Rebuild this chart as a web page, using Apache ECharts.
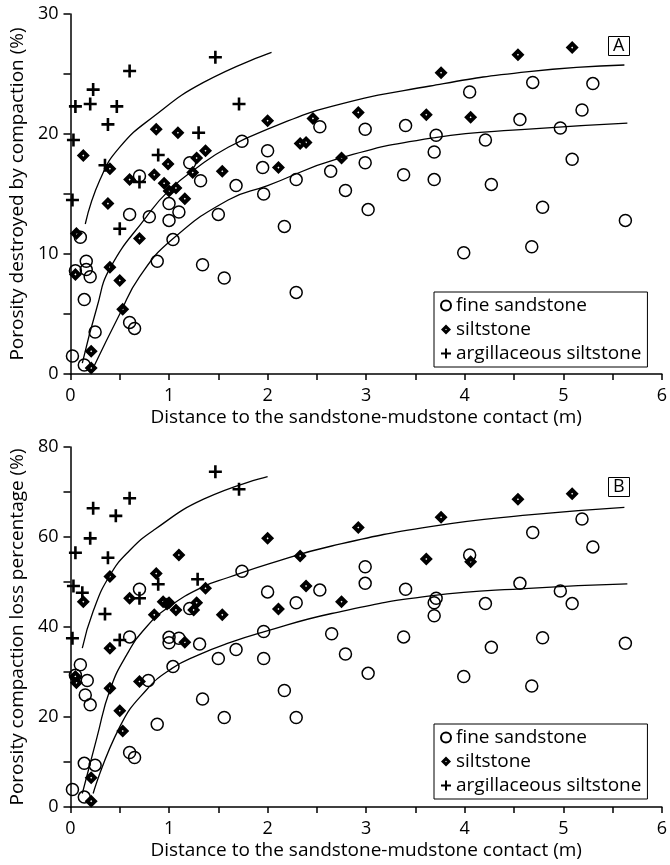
<!DOCTYPE html>
<html>
<head>
<meta charset="utf-8">
<script src="https://cdn.jsdelivr.net/npm/echarts@6/dist/echarts.min.js"></script>
<style>
  html, body { margin: 0; padding: 0; background: #fff; }
</style>
</head>
<body>
<div id="main" style="width: 670px;height:865px;"></div>
<script>
// panel A: porosity destroyed by compaction (%)
var fineA = [[0.7, 16.5], [1.21, 17.6], [1.32, 16.1], [1.74, 19.4], [2.0, 18.6], [1.95, 17.2], [1.68, 15.7], [1.96, 15.0],
  [2.53, 20.6], [2.29, 16.2], [2.64, 16.9], [1.5, 13.3], [0.6, 13.3], [0.8, 13.1], [1.0, 14.2], [1.1, 13.5], [1.0, 12.8],
  [1.04, 11.2], [0.88, 9.4], [1.34, 9.1], [1.56, 8.0], [2.17, 12.3], [2.29, 6.8], [0.1, 11.4], [0.16, 9.4], [0.05, 8.6],
  [0.16, 8.7], [0.2, 8.1], [0.14, 6.2], [0.6, 4.3], [0.65, 3.8], [0.25, 3.5], [0.02, 1.5], [0.14, 0.75],
  [4.05, 23.5], [4.69, 24.3], [5.3, 24.2], [5.19, 22.0], [2.99, 20.4], [3.4, 20.7], [3.71, 19.9], [4.56, 21.2], [4.97, 20.5],
  [4.21, 19.5], [3.69, 18.5], [2.99, 17.6], [3.38, 16.6], [3.69, 16.2], [5.09, 17.9], [2.79, 15.3], [4.27, 15.8],
  [3.02, 13.7], [4.79, 13.9], [5.63, 12.8], [3.99, 10.1], [4.68, 10.6]]
var siltA = [[0.13, 18.2], [0.4, 17.1], [0.38, 14.2], [0.6, 16.2], [0.87, 20.4], [1.09, 20.1], [0.85, 16.6], [0.99, 17.5],
  [0.95, 15.9], [1.0, 15.25], [1.07, 15.5], [1.16, 14.6], [1.28, 18.0], [1.37, 18.6], [1.24, 16.8], [1.54, 16.9],
  [2.0, 21.1], [2.11, 17.2], [2.46, 21.3], [2.33, 19.2], [2.39, 19.3], [2.75, 18.0], [2.92, 21.8], [3.76, 25.1],
  [3.61, 21.6], [4.06, 21.4], [4.54, 26.6], [5.09, 27.2], [0.06, 11.7], [0.05, 8.3], [0.4, 8.9], [0.7, 11.3],
  [0.5, 7.8], [0.53, 5.4], [0.21, 1.9], [0.21, 0.5]]
var argA = [[0.05, 22.3], [0.2, 22.5], [0.23, 23.7], [0.6, 25.25], [0.47, 22.3], [0.38, 20.8], [0.03, 19.5], [1.47, 26.4],
  [1.71, 22.5], [1.3, 20.1], [0.89, 18.25], [0.35, 17.4], [0.7, 16.0], [0.02, 14.5], [0.5, 12.1]]
var curveArgA = [[0.15, 12.5], [0.3, 16.2], [0.5, 18.9], [0.85, 21.5], [1.35, 24.3], [2.04, 26.8]]
var curveSiltA = [[0.12, 0.9], [0.27, 5.6], [0.4, 8.8], [0.77, 13.1], [1.0, 15.3], [1.3, 17.3], [1.6, 18.9], [2.0, 20.4],
  [2.65, 22.3], [3.65, 24.0], [4.65, 25.2], [5.62, 25.75]]
var curveFineA = [[0.23, 0.5], [0.5, 5.0], [0.7, 8.1], [1.03, 11.2], [1.6, 14.5], [2.0, 15.7], [2.7, 17.9], [3.7, 19.7],
  [4.65, 20.4], [5.65, 20.9]]

// panel B: porosity compaction loss percentage (%)
var fineB = [[0.7, 48.4], [1.21, 44.1], [1.31, 36.2], [1.74, 52.4], [2.0, 47.8], [1.96, 39.0], [1.68, 35.0], [1.96, 33.0],
  [2.53, 48.2], [2.29, 45.4], [2.65, 38.5], [1.5, 33.0], [0.6, 37.8], [0.79, 28.1], [1.0, 37.7], [1.1, 37.5], [1.0, 36.5],
  [1.04, 31.2], [0.88, 18.4], [1.34, 24.0], [1.56, 19.9], [2.17, 25.9], [2.29, 19.9], [0.1, 31.6], [0.17, 28.1], [0.05, 29.3],
  [0.15, 24.9], [0.2, 22.7], [0.14, 9.7], [0.6, 12.1], [0.65, 11.0], [0.25, 9.3], [0.02, 3.9], [0.14, 2.2],
  [4.05, 56.0], [4.69, 61.0], [5.3, 57.8], [5.19, 64.0], [2.99, 53.4], [3.4, 48.4], [3.71, 46.4], [4.56, 49.7], [4.97, 48.0],
  [4.21, 45.2], [3.69, 45.4], [2.99, 49.7], [3.38, 37.8], [3.69, 42.5], [5.09, 45.2], [2.79, 34.0], [4.27, 35.5],
  [3.02, 29.7], [4.79, 37.6], [5.63, 36.4], [3.99, 29.0], [4.68, 26.9]]
var siltB = [[0.13, 45.6], [0.4, 51.2], [0.4, 35.3], [0.6, 46.4], [0.87, 51.9], [1.1, 56.0], [0.85, 42.7], [0.98, 45.1],
  [0.94, 45.6], [1.0, 45.4], [1.07, 43.8], [1.16, 36.6], [1.28, 45.4], [1.37, 48.6], [1.25, 43.8], [1.54, 42.7],
  [2.0, 59.7], [2.11, 44.0], [2.33, 55.8], [2.39, 49.1], [2.75, 45.6], [2.92, 62.1], [3.76, 64.4],
  [3.61, 55.1], [4.06, 54.5], [4.54, 68.4], [5.09, 69.6], [0.05, 29.0], [0.06, 27.6], [0.4, 26.4], [0.7, 27.9],
  [0.5, 21.4], [0.53, 16.9], [0.21, 6.5], [0.21, 1.3]]
var argB = [[0.05, 56.5], [0.03, 49.1], [0.12, 47.6], [0.23, 66.4], [0.2, 59.7], [0.46, 64.7], [0.6, 68.6], [0.38, 55.4],
  [0.35, 42.9], [0.7, 46.4], [0.89, 49.5], [1.29, 50.6], [1.47, 74.5], [1.71, 70.6], [0.02, 37.5], [0.5, 37.1]]
var curveArgB = [[0.12, 35.3], [0.23, 43.5], [0.4, 51.5], [0.6, 57.0], [0.85, 61.6], [1.35, 68.4], [2.0, 73.4]]
var curveSiltB = [[0.12, 3.0], [0.27, 15.6], [0.4, 26.0], [0.57, 33.8], [0.77, 40.0], [1.0, 44.5], [1.35, 49.0], [1.6, 51.0],
  [2.02, 54.1], [2.65, 58.0], [3.65, 62.3], [4.65, 64.9], [5.62, 66.6]]
var curveFineB = [[0.23, 3.0], [0.5, 17.8], [0.77, 26.0], [1.03, 30.8], [1.3, 33.8], [1.6, 36.4], [1.96, 38.9], [2.65, 43.0],
  [3.65, 46.9], [4.65, 48.6], [5.65, 49.6]]

var legendNames = ['fine sandstone', 'siltstone', 'argillaceous siltstone']
var xName = 'Distance to the sandstone-mudstone contact (m)'
var yNameA = 'Porosity destroyed by compaction (%)'
var yNameB = 'Porosity compaction loss percentage (%)'

var font = 'Open Sans'
var plusPath = 'path://M4,0 H6 V4 H10 V6 H6 V10 H4 V6 H0 V4 H4 Z'
// black diamond with a small white hole in the middle
var diamondPath = 'path://M5,0 L10,5 L5,10 L0,5 Z M5,4.2 L4.2,5 L5,5.8 L5.8,5 Z'

function xAxis(gridIndex) {
  return {
    type: 'value', gridIndex: gridIndex, min: 0, max: 6, interval: 0.5,
    name: xName, nameLocation: 'middle', nameGap: 34,
    nameTextStyle: {color: '#000', fontSize: 19, fontFamily: font},
    axisLine: {show: true, lineStyle: {color: '#000', width: 1.5}},
    axisTick: {show: true, length: 6, lineStyle: {color: '#000', width: 1.5}},
    axisLabel: {
      color: '#000', fontSize: 18, fontFamily: font, margin: 13,
      formatter: function (v) { return v % 1 === 0 ? v : '' }
    },
    splitLine: {show: false}
  }
}

function yAxis(gridIndex, max, interval, labelStep, name) {
  return {
    type: 'value', gridIndex: gridIndex, min: 0, max: max, interval: interval,
    name: name, nameLocation: 'middle', nameGap: 33,
    nameTextStyle: {color: '#000', fontSize: 19, fontFamily: font},
    axisLine: {show: true, lineStyle: {color: '#000', width: 1.5}},
    axisTick: {show: true, length: 7, lineStyle: {color: '#000', width: 1.5}},
    axisLabel: {
      color: '#000', fontSize: 18, fontFamily: font, margin: 12,
      formatter: function (v) { return v % labelStep === 0 ? v : '' }
    },
    splitLine: {show: false}
  }
}

// plain companion axes that only carry the tick marks
function tickXAxis(gridIndex) {
  return {
    type: 'value', gridIndex: gridIndex, min: 0, max: 6, interval: 0.5, position: 'bottom',
    axisLine: {show: false, onZero: false},
    axisTick: {show: true, length: 6, lineStyle: {color: '#000', width: 1.5}},
    axisLabel: {color: 'rgba(0,0,0,0)'},
    splitLine: {show: false}
  }
}

function tickYAxis(gridIndex, max, interval) {
  return {
    type: 'value', gridIndex: gridIndex, min: 0, max: max, interval: interval, position: 'left',
    axisLine: {show: false, onZero: false},
    axisTick: {show: true, length: 7, lineStyle: {color: '#000', width: 1.5}},
    axisLabel: {color: 'rgba(0,0,0,0)'},
    splitLine: {show: false}
  }
}

function scatterSeries(idx, fine, silt, arg) {
  return [
    {
      name: legendNames[0], type: 'scatter', xAxisIndex: idx, yAxisIndex: idx, data: fine,
      symbol: 'circle', symbolSize: 12,
      itemStyle: {color: 'rgba(255,255,255,0)', borderColor: '#000', borderWidth: 1.5, opacity: 1}
    },
    {
      name: legendNames[1], type: 'scatter', xAxisIndex: idx, yAxisIndex: idx, data: silt,
      symbol: diamondPath, symbolSize: 13,
      itemStyle: {color: '#000', opacity: 1}
    },
    {
      name: legendNames[2], type: 'scatter', xAxisIndex: idx, yAxisIndex: idx, data: arg,
      symbol: plusPath, symbolSize: 13,
      itemStyle: {color: '#000', opacity: 1}
    }
  ]
}

function curveSeries(idx, data) {
  return {
    type: 'line', xAxisIndex: idx, yAxisIndex: idx, data: data, smooth: 0.5,
    showSymbol: false, silent: true,
    lineStyle: {color: '#000', width: 1.3}
  }
}

function legend(top) {
  return {
    data: legendNames, orient: 'vertical', left: 434, top: top,
    itemWidth: 10, itemHeight: 10, itemGap: 3,
    padding: [3, 6, 3, 6], borderColor: '#000', borderWidth: 1,
    textStyle: {color: '#000', fontSize: 19, fontFamily: font, lineHeight: 21}
  }
}

var chart = echarts.init(document.getElementById('main'))

var option = {
  animation: false,
  backgroundColor: '#fff',
  title: [
    {text: 'A', left: 608, top: 36, padding: [1, 5], borderColor: '#000', borderWidth: 1,
      textStyle: {color: '#000', fontSize: 18, fontWeight: 'normal', fontFamily: font}},
    {text: 'B', left: 608, top: 477, padding: [1, 5], borderColor: '#000', borderWidth: 1,
      textStyle: {color: '#000', fontSize: 18, fontWeight: 'normal', fontFamily: font}}
  ],
  legend: [legend(292), legend(724)],
  grid: [
    {left: 65, top: 14, width: 598, height: 360},
    {left: 65, top: 447, width: 598, height: 360}
  ],
  xAxis: [xAxis(0), xAxis(1), tickXAxis(0), tickXAxis(1)],
  yAxis: [yAxis(0, 30, 5, 10, yNameA), yAxis(1, 80, 10, 20, yNameB), tickYAxis(0, 30, 5), tickYAxis(1, 80, 10)],
  series: [
    curveSeries(0, curveArgA), curveSeries(0, curveSiltA), curveSeries(0, curveFineA),
    curveSeries(1, curveArgB), curveSeries(1, curveSiltB), curveSeries(1, curveFineB)
  ].concat(scatterSeries(0, fineA, siltA, argA), scatterSeries(1, fineB, siltB, argB))
}

chart.setOption(option)
</script>
</body>
</html>
